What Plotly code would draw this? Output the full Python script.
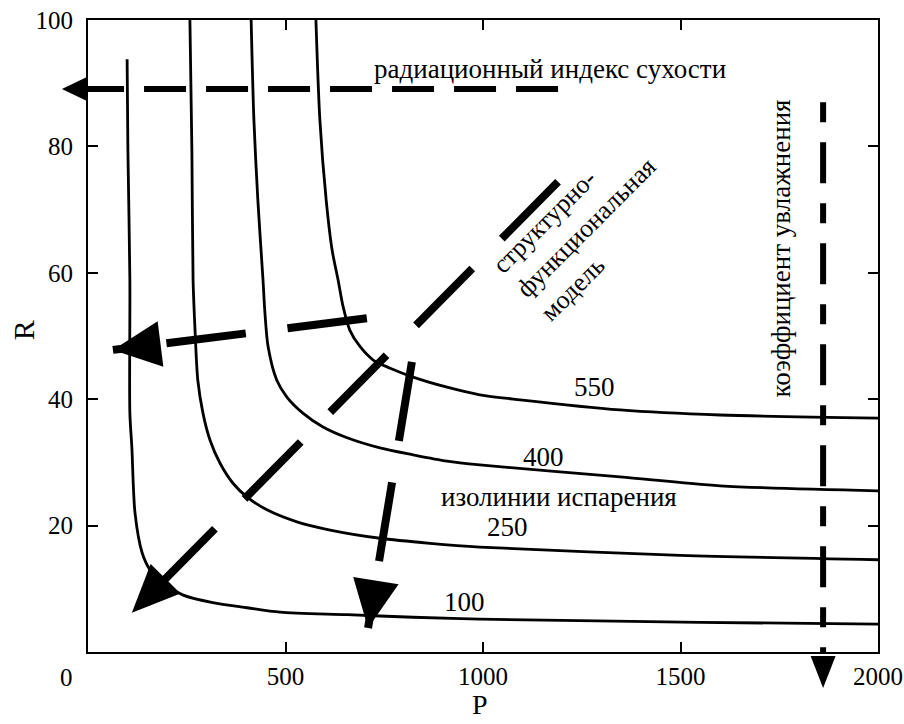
import math
import plotly.graph_objects as go

# ---------------- data ----------------
# Isolines of evaporation: P (x, precipitation) and R (y, radiation)
iso100_P = [99, 101, 106, 106, 111, 119, 137, 157, 190, 241, 316, 403, 486, 656, 823, 992, 1549, 2000]
iso100_R = [93.8, 79.4, 58.9, 37.8, 32.4, 22.0, 15.7, 13.0, 10.9, 9.0, 7.8, 7.0, 6.3, 5.9, 5.5, 5.2, 4.7, 4.4]

iso250_P = [258, 263, 266, 271, 278, 291, 309, 334, 367, 403, 453, 529, 613, 739, 866, 992, 1499, 2000]
iso250_R = [100, 79.4, 58.9, 50.9, 43.0, 37.8, 33.5, 29.9, 26.7, 24.5, 22.5, 20.6, 19.3, 18.0, 17.2, 16.6, 15.3, 14.6]

iso400_P = [413, 420, 430, 443, 448, 456, 478, 504, 544, 595, 656, 739, 823, 909, 992, 1347, 1600, 2000]
iso400_R = [100, 84.2, 71.5, 58.9, 53.6, 48.3, 43.0, 40.3, 37.8, 35.6, 33.9, 32.3, 31.2, 30.2, 29.6, 27.7, 26.3, 25.5]

iso550_P = [577, 587, 603, 618, 633, 646, 663, 689, 722, 765, 823, 909, 992, 1094, 1347, 1600, 2000]
iso550_R = [100, 84.2, 71.5, 63.6, 58.9, 54.6, 50.9, 48.3, 46.2, 44.9, 43.5, 41.9, 40.7, 39.9, 38.3, 37.5, 37.0]

iso_labels = ["100", "250", "400", "550"]
iso_label_P = [954, 1063, 1152, 1281]
iso_label_R = [7.9, 19.8, 30.9, 42.0]

# Arrows: [start, tip] in data coordinates (P, R)
arrow_dry_P = [1190, -66]          # радиационный индекс сухости
arrow_dry_R = [89.1, 89.1]
arrow_wet_P = [1861, 1861]         # коэффициент увлажнения
arrow_wet_R = [87.0, -5.7]
arrow_model_P = [1190, 111]        # структурно-функциональная модель
arrow_model_R = [74.4, 6.2]
arrow_left_P = [706, 63]
arrow_left_R = [52.8, 47.8]
arrow_down_P = [820, 709]
arrow_down_R = [45.9, 3.8]

x_ticks = [500, 1000, 1500, 2000]
y_ticks = [20, 40, 60, 80, 100]

X_RANGE = [0, 2000]
Y_RANGE = [0, 100]
FONT = "Liberation Serif, DejaVu Serif, serif"

W, H = 904, 724
ML, MR, MT, MB = 88, 26, 20, 72
PLOT_W = W - ML - MR
PLOT_H = H - MT - MB

fig = go.Figure()

for P, R in [(iso100_P, iso100_R), (iso250_P, iso250_R),
             (iso400_P, iso400_R), (iso550_P, iso550_R)]:
    fig.add_trace(go.Scatter(x=P, y=R, mode="lines",
                             line=dict(color="black", width=2.8, shape="spline", smoothing=0.8),
                             hoverinfo="skip", showlegend=False))

shapes = []


def add_arrow(P, R, width, dash, head_len, head_w):
    fig.add_trace(go.Scatter(
        x=P, y=R, mode="lines",
        line=dict(color="black", width=width, dash=dash),
        hoverinfo="skip", showlegend=False))
    # screen direction (pixels, y up) from start to tip
    dx = (P[1] - P[0]) / (X_RANGE[1] - X_RANGE[0]) * PLOT_W
    dy = (R[1] - R[0]) / (Y_RANGE[1] - Y_RANGE[0]) * PLOT_H
    n = math.hypot(dx, dy)
    ux, uy = dx / n, dy / n
    px, py = -uy, ux
    bx, by = -head_len * ux, -head_len * uy
    x1, y1 = bx + head_w / 2 * px, by + head_w / 2 * py
    x2, y2 = bx - head_w / 2 * px, by - head_w / 2 * py
    shapes.append(dict(
        type="path", xref="paper", yref="paper",
        xsizemode="pixel", ysizemode="pixel",
        xanchor=(P[1] - X_RANGE[0]) / (X_RANGE[1] - X_RANGE[0]),
        yanchor=(R[1] - Y_RANGE[0]) / (Y_RANGE[1] - Y_RANGE[0]),
        path=f"M0,0 L{x1:.2f},{y1:.2f} L{x2:.2f},{y2:.2f} Z",
        fillcolor="black", line=dict(width=0), layer="above"))


add_arrow(arrow_dry_P, arrow_dry_R, 6, "42px,20px", 26, 25)
add_arrow(arrow_wet_P, arrow_wet_R, 6, "20px,20px,41px,20px", 32, 25)
add_arrow(arrow_model_P, arrow_model_R, 8, "80px,42px", 48, 42)
add_arrow(arrow_left_P, arrow_left_R, 8, "80px,42px", 48, 46)
add_arrow(arrow_down_P, arrow_down_R, 8, "80px,42px", 48, 46)

TXT = 27
ann = []
for t, p, r in zip(iso_labels, iso_label_P, iso_label_R):
    ann.append(dict(x=p, y=r, text=t, showarrow=False, font=dict(size=TXT)))

ann += [
    dict(x=1170, y=92.2, text="радиационный индекс сухости", showarrow=False, font=dict(size=TXT)),
    dict(x=1755, y=63.9, text="коэффициент увлажнения", showarrow=False, textangle=-90, font=dict(size=TXT)),
    dict(x=1192, y=24.6, text="изолинии испарения", showarrow=False, font=dict(size=TXT)),
    dict(x=1262, y=67.2, text="структурно-<br>функциональная<br>модель", showarrow=False,
         textangle=-45, align="left", font=dict(size=26)),
    dict(xref="paper", yref="paper", x=-0.0266, y=-0.0396, xanchor="center", yanchor="middle",
         text="0", showarrow=False, font=dict(size=25)),
    dict(xref="paper", yref="paper", x=0.496, y=-0.1105, xanchor="center", yanchor="bottom",
         text="P", showarrow=False, font=dict(size=28)),
    dict(xref="paper", yref="paper", x=-0.0823, y=0.509, xanchor="center", yanchor="middle",
         text="R", showarrow=False, textangle=-90, font=dict(size=30)),
]

axis_common = dict(showline=True, linecolor="black", linewidth=2, mirror="ticks",
                   ticks="inside", ticklen=10, tickwidth=2, tickcolor="black", automargin=False,
                   showgrid=False, zeroline=False, tickfont=dict(size=25, color="black", family=FONT))

fig.update_layout(
    width=W, height=H,
    margin=dict(l=ML, r=MR, t=MT, b=MB, autoexpand=False),
    paper_bgcolor="white", plot_bgcolor="white",
    font=dict(family=FONT, color="black"),
    xaxis=dict(range=X_RANGE, tickvals=x_ticks, ticktext=[str(v) for v in x_ticks],
               ticklabelstandoff=1, **axis_common),
    yaxis=dict(range=Y_RANGE, tickvals=y_ticks, ticktext=[str(v) for v in y_ticks],
               ticklabelstandoff=8, **axis_common),
    annotations=ann,
    shapes=shapes,
)

fig.write_html("out.html")
